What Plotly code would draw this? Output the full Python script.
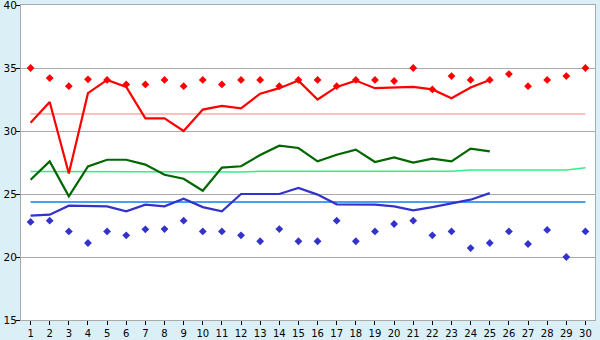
import plotly.graph_objects as go

days = list(range(1, 31))
line_days = list(range(1, 26))

red_line = [30.66, 32.3, 26.62, 33.0, 34.05, 33.5, 31.0, 31.0, 30.0, 31.7, 32.0, 31.8, 32.96,
            33.4, 34.0, 32.5, 33.5, 34.0, 33.4, 33.45, 33.5, 33.3, 32.6, 33.45, 34.05]
red_pts = [35.0, 34.2, 33.56, 34.1, 34.05, 33.7, 33.7, 34.05, 33.56, 34.05, 33.7, 34.05, 34.05,
           33.56, 34.05, 34.05, 33.56, 34.05, 34.05, 33.97, 35.0, 33.3, 34.36, 34.05, 34.05,
           34.52, 33.56, 34.05, 34.36, 35.0]
red_avg = [31.35] * 30

green_line = [26.13, 27.59, 24.81, 27.19, 27.72, 27.72, 27.33, 26.53, 26.21, 25.26, 27.1, 27.2,
              28.1, 28.83, 28.65, 27.59, 28.12, 28.52, 27.54, 27.9, 27.5, 27.8, 27.59, 28.6, 28.38]
green_avg = [26.79, 26.79, 26.79] + [26.74] * 9 + [26.8] * 11 + [26.9] * 6 + [27.08]

blue_line = [23.28, 23.36, 24.07, 24.07, 24.02, 23.62, 24.15, 24.02, 24.63, 23.96, 23.62, 25.0,
             25.0, 25.0, 25.48, 24.95, 24.18, 24.15, 24.15, 24.02, 23.7, 23.96, 24.28, 24.55, 25.07]
blue_pts = [22.78, 22.88, 22.03, 21.11, 22.03, 21.72, 22.2, 22.22, 22.88, 22.03, 22.03, 21.72,
            21.25, 22.22, 21.25, 21.25, 22.88, 21.25, 22.03, 22.62, 22.88, 21.72, 22.03, 20.71,
            21.11, 22.03, 21.03, 22.15, 20.0, 22.03]
blue_avg = [24.36] * 30

y_ticks = [15, 20, 25, 30, 35, 40]

fig = go.Figure()
fig.add_trace(go.Scatter(x=days, y=red_avg, mode="lines", line=dict(color="#FF8080", width=1)))
fig.add_trace(go.Scatter(x=days, y=green_avg, mode="lines", line=dict(color="#33EE88", width=1.5)))
fig.add_trace(go.Scatter(x=days, y=blue_avg, mode="lines", line=dict(color="#0A80F0", width=1.5)))
fig.add_trace(go.Scatter(x=line_days, y=red_line, mode="lines", line=dict(color="#FF0000", width=2.2)))
fig.add_trace(go.Scatter(x=line_days, y=green_line, mode="lines", line=dict(color="#006600", width=2.2)))
fig.add_trace(go.Scatter(x=line_days, y=blue_line, mode="lines", line=dict(color="#3333CC", width=2.2)))
fig.add_trace(go.Scatter(x=days, y=red_pts, mode="markers",
                         marker=dict(symbol="diamond", size=6, color="#FF0000")))
fig.add_trace(go.Scatter(x=days, y=blue_pts, mode="markers",
                         marker=dict(symbol="diamond", size=6, color="#3333CC")))

fig.update_layout(
    width=600, height=340,
    margin=dict(l=21, r=5, t=5, b=20, autoexpand=False),
    paper_bgcolor="#DAF0F6",
    plot_bgcolor="#FFFFFF",
    showlegend=False,
    font=dict(family="DejaVu Sans", color="#000000"),
)
fig.update_xaxes(
    range=[0.5, 30.5], tickmode="array", tickvals=days, ticktext=[str(d) for d in days],
    showgrid=False, zeroline=False, showline=True, linecolor="#AAAAAA", linewidth=1,
    mirror=True, ticks="outside", ticklen=4, tickcolor="#000000",
    tickfont=dict(size=10), fixedrange=True, automargin=False,
    ticklabeloverflow="allow",
)
fig.update_yaxes(
    range=[15, 40], tickmode="array", tickvals=y_ticks, ticktext=[str(v) for v in y_ticks],
    showgrid=True, gridcolor="#AAAAAA", gridwidth=1, zeroline=False,
    showline=True, linecolor="#AAAAAA", linewidth=1, mirror=True,
    ticks="outside", ticklen=4, tickcolor="#000000", tickfont=dict(size=10.5),
    fixedrange=True, automargin=False, ticklabeloverflow="allow",
    ticklabelstandoff=-3,
)

fig.write_html("out.html")
